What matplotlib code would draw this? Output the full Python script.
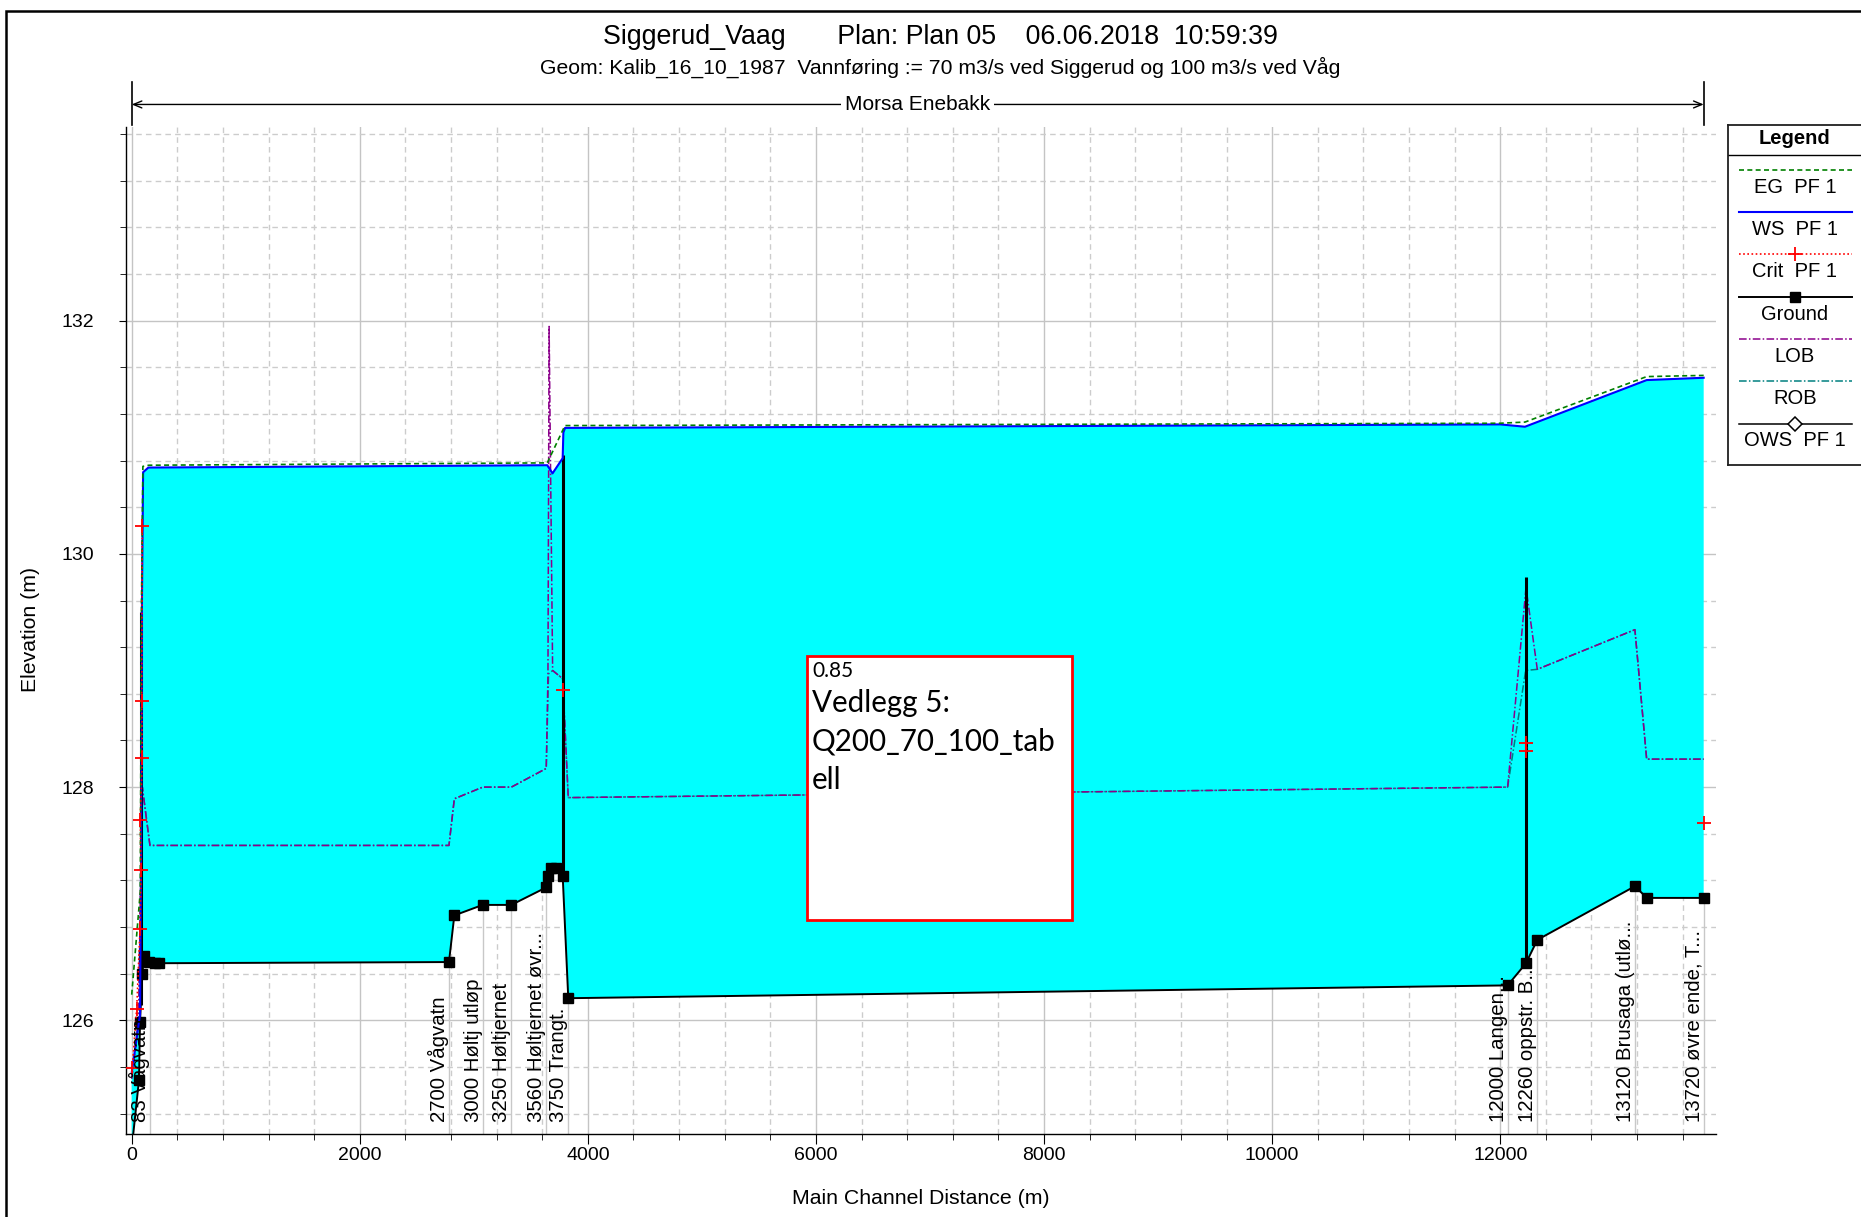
import matplotlib
matplotlib.use('Agg')
import matplotlib.pyplot as plt
import matplotlib.transforms as mtransforms
from matplotlib.patches import Rectangle
import numpy as np

plt.rcParams['font.family'] = ['Liberation Sans', 'DejaVu Sans']

W, H = 1861, 1217  # figurstørrelse i piksler

# Profil langs hovedløpet: avstand (m) og kote (m)
ground_x = [0, 64, 73, 93, 110, 150, 200, 240, 2782, 2829, 3078, 3329, 3635, 3647,
            3680, 3720, 3779, 3828, 12065, 12226, 12325, 13181, 13286, 13784]
ground_z = [124.9, 125.49, 125.99, 126.40, 126.55, 126.50, 126.49, 126.49, 126.50, 126.90,
            126.99, 126.99, 127.14, 127.24, 127.31, 127.31, 127.24, 126.19, 126.30, 126.49,
            126.69, 127.15, 127.05, 127.05]

ws_x = [0, 73, 82, 90, 100, 146, 3644, 3690, 3779, 3785, 3800, 12000, 12217, 13284, 13784]
ws_z = [125.55, 126.05, 127.4, 129.6, 130.70, 130.74, 130.76, 130.69, 130.82, 131.04,
        131.08, 131.11, 131.09, 131.49, 131.51]

eg_x = [0, 75, 85, 98, 150, 3644, 3799, 12000, 12217, 13284, 13784]
eg_z = [126.22, 127.1, 129.5, 130.75, 130.76, 130.78, 131.10, 131.12, 131.13, 131.52, 131.53]

crit_x = [5, 44, 73, 82, 75, 93, 88, 93, np.nan, 3779, np.nan, 12230, 12230, np.nan, 13784]
crit_z = [125.59, 126.10, 126.78, 127.29, 127.72, 128.25, 128.74, 130.24, np.nan, 128.83,
          np.nan, 128.38, 128.31, np.nan, 127.69]

lob_x = [0, 60, 93, 160, 2782, 2829, 3078, 3329, 3635, 3650, 3660, 3691, 3779, 3828,
         12065, 12226, 12325, 13181, 13284, 13784]
lob_z = [125.5, 126.0, 128.0, 127.5, 127.5, 127.90, 128.0, 128.0, 128.16, 128.97, 131.95,
         129.0, 128.93, 127.91, 128.0, 129.71, 129.01, 129.35, 128.24, 128.24]

rob_x = [0, 60, 93, 160, 2782, 2829, 3078, 3329, 3635, 3655, 3691, 3779, 3828,
         12065, 12223, 12325, 13181, 13284, 13784]
rob_z = [125.5, 126.0, 128.0, 127.5, 127.5, 127.90, 128.0, 128.0, 128.16, 128.97, 129.0,
         128.93, 127.91, 128.0, 129.0, 129.01, 129.35, 128.24, 128.24]

# konstruksjoner (terskler/bru) tegnet som loddrette streker
struct_x = [80, 3779, 12226]
struct_top = [129.5, 130.85, 129.80]

# tverrprofiler med navn
xs_dist = [160, 2782, 3078, 3329, 3635, 3828, 12065, 12325, 13181, 13784]
xs_names = ["83 Vågvatn", "2700 Vågvatn", "3000 Høltj utløp", "3250 Høltjernet",
            "3560 Høltjernet øvr...", "3750 Trangt.", "12000 Langen...",
            "12260 oppstr. B...", "13120 Brusaga (utlø...", "13720 øvre ende, T..."]

reach_start, reach_end = 0, 13784

eg_style = dict(color='#008000', ls=(0, (3, 2)), lw=1.2)
ws_style = dict(color='#0000ff', ls='-', lw=1.5)
crit_style = dict(color='#ff0000', ls=(0, (1, 1.5)), lw=1.2, marker='+', ms=10, mew=1.3)
ground_style = dict(color='black', ls='-', lw=1.4, marker='s', ms=6.5)
lob_style = dict(color='#8b008b', ls=(0, (5, 1.5, 1, 1.5)), lw=1.1)
rob_style = dict(color='#008080', ls=(0, (5, 1.5, 1, 1.5)), lw=1.1)
ows_style = dict(color='black', ls='-', lw=1.1, marker='D', ms=7, mfc='white', mew=1.1)

fig = plt.figure(figsize=(W / 100, H / 100), dpi=100)
ax = fig.add_axes([126 / W, 1 - 1133.5 / H, (1716 - 126) / W, (1133.5 - 127) / H])

ymin, ymax = 125.03, 133.66
ax.set_xlim(-50, 13892)
ax.set_ylim(ymin, ymax)

# vannfylt område mellom bunn og vannspeil
ax.fill(ws_x + ground_x[::-1], ws_z + ground_z[::-1], color='#00ffff', lw=0, zorder=1)

ground_at_xs = np.interp(xs_dist, ground_x, ground_z)
ax.vlines(xs_dist, ymin, ground_at_xs, color='#c8c8c8', lw=1, zorder=0.8)

ax.plot(rob_x, rob_z, zorder=2, **rob_style)
ax.plot(lob_x, lob_z, zorder=2.1, **lob_style)
ax.vlines(struct_x, np.interp(struct_x, ground_x, ground_z), struct_top,
          color='black', lw=2.2, zorder=4)
ax.plot(ground_x, ground_z, zorder=4, **ground_style)
ax.plot(ws_x, ws_z, zorder=5, **ws_style)
ax.plot(eg_x, eg_z, zorder=5.5, **eg_style)
ax.plot(crit_x, crit_z, zorder=6, **crit_style)

# akser og rutenett
ax.set_xticks(np.arange(0, 13000, 2000))
ax.set_xticks(np.arange(0, 13900, 400), minor=True)
ax.set_yticks([126, 128, 130, 132])
ax.set_yticks(np.arange(125.2, 133.7, 0.4), minor=True)
ax.grid(which='major', color='#c4c4c4', lw=1, ls='-')
ax.grid(which='minor', color='#cccccc', lw=1, ls=(0, (4, 3)))
ax.set_axisbelow(True)
for s in ['top', 'right']:
    ax.spines[s].set_visible(False)
for s in ['left', 'bottom']:
    ax.spines[s].set_color('black')
    ax.spines[s].set_linewidth(1)
ax.tick_params(axis='x', which='major', length=7, pad=3, labelsize=14)
ax.tick_params(axis='x', which='minor', length=4)
ax.tick_params(axis='y', which='major', length=5, pad=18, labelsize=14)
ax.tick_params(axis='y', which='minor', length=4)

# navn på tverrprofiler
trans = mtransforms.blended_transform_factory(ax.transData, ax.transAxes)
for d, name in zip(xs_dist, xs_names):
    ax.text(d, 0.0118, name, transform=trans, rotation=90, ha='right', va='bottom',
            fontsize=14.7, zorder=7)

# strekning
ay = 1.0224
ax.annotate('', xy=(reach_start, ay), xytext=(reach_end, ay), xycoords=trans, textcoords=trans,
            arrowprops=dict(arrowstyle='<->,head_length=0.6,head_width=0.25', color='black',
                            lw=1, shrinkA=0, shrinkB=0), annotation_clip=False)
for xe in (reach_start, reach_end):
    ax.plot([xe, xe], [1.0015, 1.0443], transform=trans, color='black', lw=1.2, clip_on=False)
ax.text((reach_start + reach_end) / 2, ay, 'Morsa Enebakk', transform=trans, ha='center',
        va='center', fontsize=15, bbox=dict(facecolor='white', edgecolor='none', pad=3))

# titler
fig.text(940 / W, 1 - 44 / H, 'Siggerud_Vaag       Plan: Plan 05    06.06.2018  10:59:39',
         ha='center', va='baseline', fontsize=19.3)
fig.text(940 / W, 1 - 73.6 / H,
         'Geom: Kalib_16_10_1987  Vannføring := 70 m3/s ved Siggerud og 100 m3/s ved Våg',
         ha='center', va='baseline', fontsize=15.2)
fig.text(921 / W, 1 - 1199 / H, 'Main Channel Distance (m)', ha='center', va='center',
         fontsize=15.3)
fig.text(30 / W, 1 - 629 / H, 'Elevation (m)', ha='center', va='center', rotation=90,
         fontsize=15.3)

# tegnforklaring
lax = fig.add_axes([1728 / W, 1 - 465 / H, (1880 - 1728) / W, (465 - 125) / H])
lax.set_xlim(1728, 1880)
lax.set_ylim(465, 125)
lax.set_xticks([])
lax.set_yticks([])
for s in lax.spines.values():
    s.set_color('#202020')
    s.set_linewidth(1.3)
lax.text(1795, 138, 'Legend', ha='center', va='center', fontsize=14.5, fontweight='bold')
lax.plot([1728, 1880], [154.5, 154.5], color='black', lw=1)
leg_items = [('EG  PF 1', eg_style), ('WS  PF 1', ws_style), ('Crit  PF 1', crit_style),
             ('Ground', ground_style), ('LOB', lob_style), ('ROB', rob_style),
             ('OWS  PF 1', ows_style)]
for i, (name, st) in enumerate(leg_items):
    yl = 169.7 + i * 42.3
    lax.plot([1739, 1795, 1852], [yl, yl, yl], markevery=[1], **st)
    lax.text(1795, yl + 17.5, name, ha='center', va='center', fontsize=14.5)

# tekstboks
fig.add_artist(Rectangle((807 / W, 1 - 920 / H), 265 / W, 264 / H, transform=fig.transFigure,
                         facecolor='white', edgecolor='#ff0000', lw=2, zorder=10))
fig.text(812 / W, 1 - 677 / H, '0.85', ha='left', va='baseline', fontsize=15,
         family='Lato', zorder=11)
for k, line in enumerate(['Vedlegg 5:', 'Q200_70_100_tab', 'ell']):
    fig.text(812 / W, 1 - (712 + k * 38.6) / H, line, ha='left', va='baseline', fontsize=21.3,
             family='Lato', zorder=11)

# ramme rundt figuren
fig.add_artist(Rectangle((6 / W, -0.01), 1.0, 1.01 - 11 / H, transform=fig.transFigure,
                         fill=False, edgecolor='black', lw=1.8))

fig.savefig('out.png', dpi=100)
